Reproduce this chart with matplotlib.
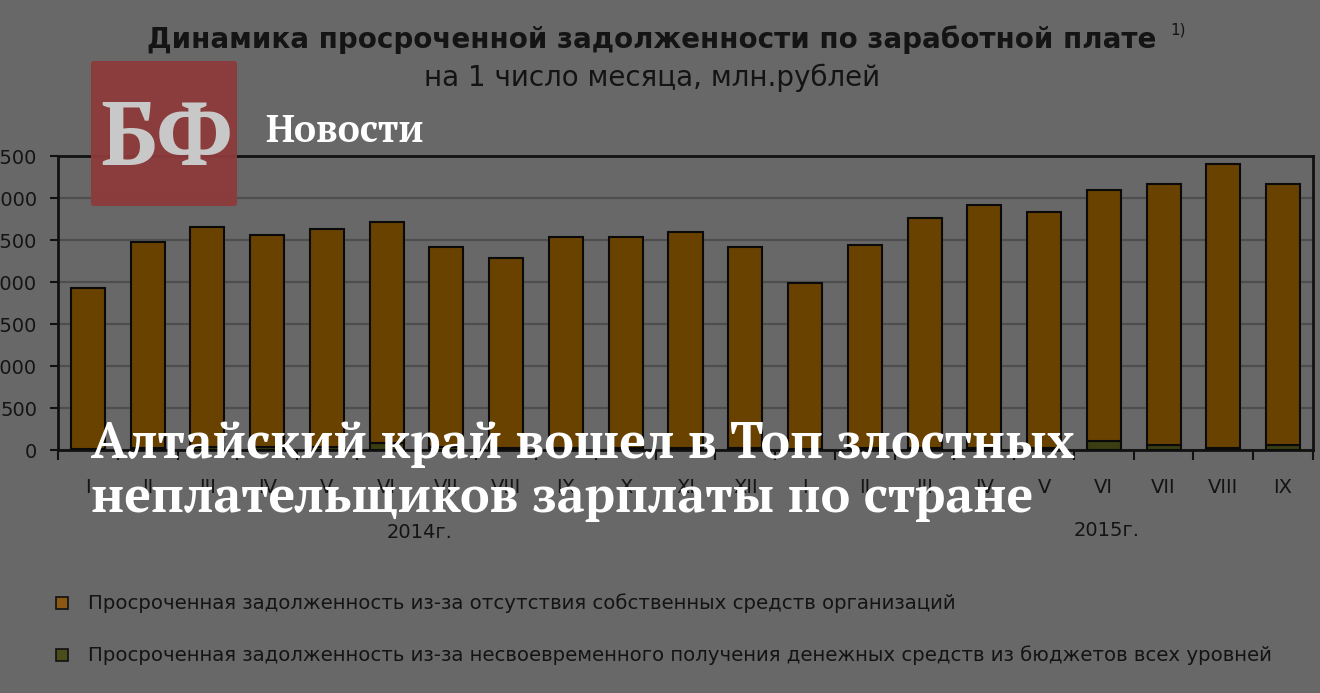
import matplotlib
matplotlib.use("Agg")
import matplotlib.pyplot as plt
from matplotlib.patches import FancyBboxPatch, Rectangle

months = ["I", "II", "III", "IV", "V", "VI", "VII", "VIII", "IX", "X", "XI", "XII",
          "I", "II", "III", "IV", "V", "VI", "VII", "VIII", "IX"]
totals = [1930, 2480, 2650, 2565, 2625, 2710, 2415, 2280, 2535, 2535, 2590, 2420,
          1985, 2440, 2765, 2915, 2830, 3090, 3170, 3405, 3170]
budget = [10, 25, 35, 40, 40, 80, 30, 20, 20, 20, 20, 20,
          15, 20, 25, 25, 25, 110, 55, 25, 55]
own = [t - b for t, b in zip(totals, budget)]
yticks = [0, 500, 1000, 1500, 2000, 2500, 3000, 3500]
years = ["2014г.", "2015г."]
title = "Динамика просроченной задолженности по заработной плате"
subtitle = "на 1 число месяца, млн.рублей"
legend_labels = ["Просроченная задолженность из-за отсутствия собственных средств организаций",
                 "Просроченная задолженность из-за несвоевременного получения денежных средств из бюджетов всех уровней"]
headline = ["Алтайский край вошел в Топ злостных", "неплательщиков зарплаты по стране"]

BG = "#686868"
BROWN = "#6a4200"
GREEN = "#3b3d12"
DARK = "#141414"
SANS = ["DejaVu Sans"]
SERIF = ["PT Serif", "Liberation Serif", "DejaVu Serif"]

fig = plt.figure(figsize=(13.2, 6.93), dpi=100, facecolor=BG)
ax = fig.add_axes([58/1320, 1-450/693, (1313-58)/1320, (450-156)/693])
ax.set_facecolor(BG)

x = list(range(len(months)))
ax.bar(x, budget, width=0.57, color=GREEN, edgecolor="#0a0a0a", linewidth=1.5, zorder=3)
ax.bar(x, own, bottom=budget, width=0.57, color=BROWN, edgecolor="#0a0a0a", linewidth=1.5, zorder=3)

ax.set_xlim(-0.5, len(months) - 0.5)
ax.set_ylim(0, 3500)
ax.set_yticks(yticks)
ax.set_yticklabels([str(v) for v in yticks], family=SANS, fontsize=14, color=DARK)
ax.yaxis.grid(True, color="#4e4e4e", linewidth=1.6, zorder=0)
ax.set_axisbelow(True)

ax.set_xticks([i + 0.5 for i in range(-1, len(months))], minor=False)
ax.set_xticklabels([])
ax.set_xticks(x, minor=True)
ax.set_xticklabels(months, minor=True, family=SANS, fontsize=14, color=DARK)
ax.tick_params(axis="x", which="major", length=7, width=1.5, color="#111111", direction="out")
ax.tick_params(axis="x", which="minor", length=0, pad=20)
ax.tick_params(axis="y", length=6, width=1.5, color="#111111", pad=9)

for s in ["top", "bottom", "left", "right"]:
    ax.spines[s].set_color("#111111")
    ax.spines[s].set_linewidth(2)

fig.text(420/1320, 1-532/693, years[0], family=SANS, fontsize=14, color=DARK, ha="center", va="center")
fig.text(1107/1320, 1-530/693, years[1], family=SANS, fontsize=14, color=DARK, ha="center", va="center")

fig.text(652/1320, 1-40/693, title, family=SANS, fontsize=20, fontweight="bold", color=DARK,
         ha="center", va="center")
fig.text(1170/1320, 1-30/693, "1)", family=SANS, fontsize=11, color=DARK, ha="left", va="center")
fig.text(652/1320, 1-78/693, subtitle, family=SANS, fontsize=20, color=DARK, ha="center", va="center")

# legend
leg_y = [603, 655]
leg_colors = ["#8a5812", "#4a4c1a"]
for yy, c, lab in zip(leg_y, leg_colors, legend_labels):
    fig.patches.append(Rectangle((56/1320, 1-(yy+6)/693), 12/1320, 12/693, transform=fig.transFigure,
                                 facecolor=c, edgecolor="#111111", linewidth=1.2))
    fig.text(88/1320, 1-yy/693, lab, family=SANS, fontsize=14.2, color=DARK, ha="left", va="center")

# logo overlay
fig.patches.append(FancyBboxPatch((91/1320, 1-206/693), 146/1320, 145/693, transform=fig.transFigure,
                                  boxstyle="round,pad=0,rounding_size=0.003",
                                  facecolor="#8e3a3a", edgecolor="none", alpha=0.95, zorder=5))
fig.text(166/1320, 1-165/693, "БФ", family=SERIF, fontsize=64,
         fontweight="bold", color="#c8c8c8", ha="center", va="baseline", zorder=6)
fig.text(265/1320, 1-142/693, "Новости", family=SERIF, fontsize=27,
         fontweight="bold", color="white", ha="left", va="baseline", zorder=6)

fig.text(91/1320, 1-458/693, headline[0], family=SERIF, fontsize=36,
         fontweight="bold", color="white", ha="left", va="baseline", zorder=7)
fig.text(91/1320, 1-512/693, headline[1], family=SERIF, fontsize=36,
         fontweight="bold", color="white", ha="left", va="baseline", zorder=7)

fig.savefig("out.png", dpi=100, facecolor=BG)
